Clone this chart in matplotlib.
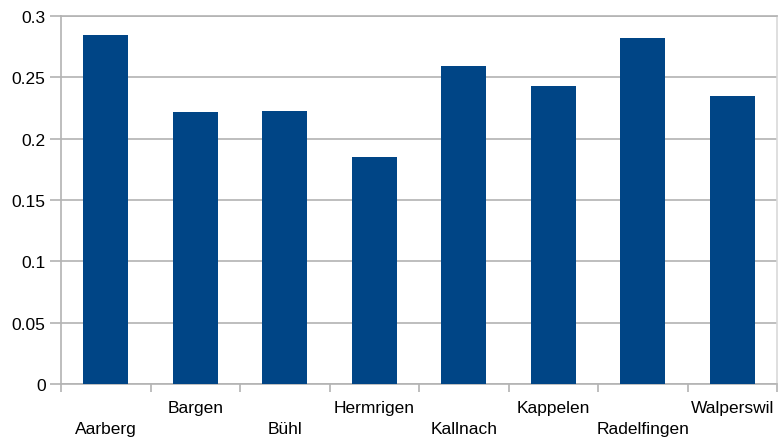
import numpy as np
import matplotlib
matplotlib.use('Agg')
import matplotlib.pyplot as plt

# data
places = ['Aarberg', 'Bargen', 'Bühl', 'Hermrigen', 'Kallnach', 'Kappelen', 'Radelfingen', 'Walperswil']
values = [0.2845, 0.2217, 0.2226, 0.185, 0.2592, 0.243, 0.282, 0.2348]
yticks = [0, 0.05, 0.1, 0.15, 0.2, 0.25, 0.3]
ytick_labels = ['0', '0.05', '0.1', '0.15', '0.2', '0.25', '0.3']

plt.rcParams['font.family'] = ['Liberation Sans', 'DejaVu Sans']
grey = '#b3b3b3'

fig = plt.figure(figsize=(7.78, 4.39), dpi=100)
ax = fig.add_axes([61/778, 1-385/439, 716/778, 368/439])

x = np.arange(len(places))
ax.bar(x, values, width=0.5, color='#004586', zorder=3)

ax.set_xlim(-0.5, len(places)-0.5)
ax.set_ylim(0, 0.3)
ax.set_yticks(yticks)
ax.set_yticklabels(ytick_labels, fontsize=12.5)
ax.yaxis.grid(True, color=grey, lw=1.2, zorder=0)

# ticks on category boundaries, labels placed by hand in two rows
ax.set_xticks(np.arange(len(places)+1)-0.5)
ax.set_xticklabels([])
ax.tick_params(axis='x', length=6, color=grey, width=1.2)
ax.tick_params(axis='y', length=8, color=grey, width=1.2, pad=3)

for i, name in enumerate(places):
    yoff = -45/368 if i % 2 == 0 else -24/368
    ax.text(i, yoff, name, transform=ax.get_xaxis_transform(), ha='center', va='center', fontsize=12.5)

for s in ['left', 'bottom', 'right', 'top']:
    ax.spines[s].set_color(grey)
    ax.spines[s].set_linewidth(1.2)
ax.spines['right'].set_color('#d9d9d9')

plt.savefig('out.png', dpi=100)
